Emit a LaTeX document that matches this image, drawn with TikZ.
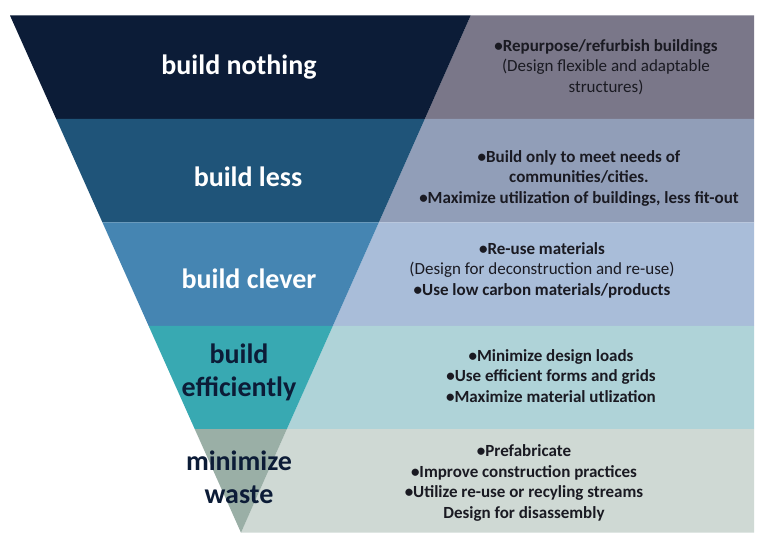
\documentclass[tikz,border=0pt]{standalone}
\usepackage{fontspec}
\setmainfont{Carlito}
\definecolor{bandA}{HTML}{0C1C37}
\definecolor{panelA}{HTML}{7A7789}
\definecolor{bandB}{HTML}{1F5479}
\definecolor{panelB}{HTML}{919EB8}
\definecolor{bandC}{HTML}{4585B2}
\definecolor{panelC}{HTML}{A9BDD9}
\definecolor{bandD}{HTML}{38A9B2}
\definecolor{panelD}{HTML}{AFD3D8}
\definecolor{bandE}{HTML}{9AAFA6}
\definecolor{panelE}{HTML}{CFD9D4}
\definecolor{txtdark}{HTML}{1A1A22}
\definecolor{labdark}{HTML}{0C1C37}
\tikzset{
  lab/.style={font=\fontsize{28}{33}\selectfont\bfseries, align=center, inner sep=0pt},
  labw/.style={lab, text=white},
  labd/.style={lab, text=labdark},
  body/.style={font=\fontsize{17}{20.5}\selectfont\bfseries, align=center, inner sep=0pt, text=txtdark},
}
\begin{document}
\begin{tikzpicture}[x=1pt,y=-1pt]
\useasboundingbox (0,0) rectangle (771,551);
\fill[white] (0,0) rectangle (771,551);
% coordinates of the funnel
\coordinate (l0) at (10,15.5);   \coordinate (r0) at (470.7,15.5);
\coordinate (l1) at (56.2,118.9); \coordinate (r1) at (424.8,118.9);
\coordinate (l2) at (102.4,222.3); \coordinate (r2) at (378.9,222.3);
\coordinate (l3) at (148.6,325.8); \coordinate (r3) at (332.9,325.8);
\coordinate (l4) at (194.8,429.2); \coordinate (r4) at (286.8,429.2);
\coordinate (ap) at (241,532.7);
\coordinate (e0) at (754,15.5);
\coordinate (e1) at (754,118.9);
\coordinate (e2) at (754,222.3);
\coordinate (e3) at (754,325.8);
\coordinate (e4) at (754,429.2);
\coordinate (e5) at (754,532.7);
% right panels
\fill[panelA] (r0) -- (e0) -- (e1) -- (r1) -- cycle;
\fill[panelB] (r1) -- (e1) -- (e2) -- (r2) -- cycle;
\fill[panelC] (r2) -- (e2) -- (e3) -- (r3) -- cycle;
\fill[panelD] (r3) -- (e3) -- (e4) -- (r4) -- cycle;
\fill[panelE] (r4) -- (e4) -- (e5) -- (ap) -- cycle;
% funnel bands
\fill[bandA] (l0) -- (r0) -- (r1) -- (l1) -- cycle;
\fill[bandB] (l1) -- (r1) -- (r2) -- (l2) -- cycle;
\fill[bandC] (l2) -- (r2) -- (r3) -- (l3) -- cycle;
\fill[bandD] (l3) -- (r3) -- (r4) -- (l4) -- cycle;
\fill[bandE] (l4) -- (r4) -- (ap) -- cycle;
% labels
\node[labw] (nA) at (239,67) {build nothing};
\node[labw] (nB) at (248,177) {build less};
\node[labw] (nC) at (249,279) {build clever};
\node[labd] (nD) at (239,372) {build\\efficiently};
\node[labd] (nE) at (239,477) {minimize\\waste};
% descriptions
\node[body] (tA) at (606,67) {•Repurpose/refurbish buildings\\{\mdseries(Design flexible and adaptable}\\{\mdseries structures)}};
\node[body] (tB) at (579,178) {•Build only to meet needs of\\communities/cities.\\•Maximize utilization of buildings, less fit-out};
\node[body] (tC) at (542,270) {•Re-use materials\\{\mdseries(Design for deconstruction and re-use)}\\•Use low carbon materials/products};
\node[body] (tD) at (551,376) {•Minimize design loads\\•Use efficient forms and grids\\•Maximize material utlization};
\node[body] (tE) at (524,483) {•Prefabricate\\•Improve construction practices\\•Utilize re-use or recyling streams\\Design for disassembly};
\end{tikzpicture}
\end{document}
